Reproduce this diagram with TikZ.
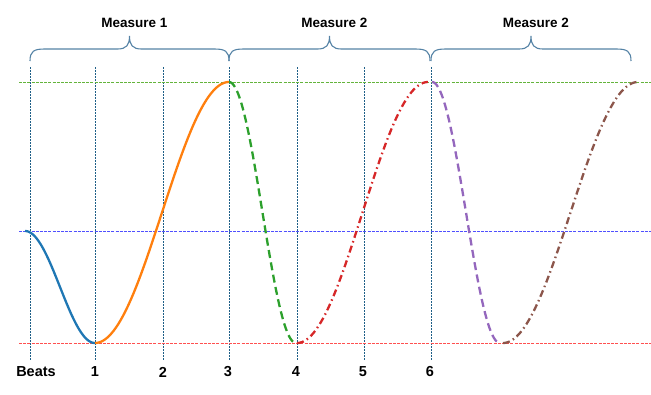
\documentclass[tikz,border=0pt]{standalone}
\usepackage{fontspec}
\setmainfont{Liberation Sans}
\usepackage{tikz}
\usetikzlibrary{positioning}

\definecolor{beatteal}{RGB}{30,95,135}
\definecolor{bracesteel}{RGB}{84,130,165}
\definecolor{topgreen}{RGB}{100,180,60}
\definecolor{midblue}{RGB}{80,80,255}
\definecolor{lowred}{RGB}{255,80,80}
\definecolor{tabblue}{RGB}{31,119,180}
\definecolor{taborange}{RGB}{255,127,14}
\definecolor{tabgreen}{RGB}{44,160,44}
\definecolor{tabred}{RGB}{214,39,40}
\definecolor{tabpurple}{RGB}{148,103,189}
\definecolor{tabbrown}{RGB}{140,86,75}

\begin{document}
\begin{tikzpicture}[x=1pt,y=-1pt,
    beatline/.style={beatteal,line width=0.8pt,dash pattern=on 2pt off 1pt},
    levelline/.style={line width=1pt,dash pattern=on 3pt off 1.2pt},
    swing/.style={line width=2.3pt,domain=0:1,samples=80},
    dashswing/.style={swing,dash pattern=on 8pt off 4.5pt},
    dotswing/.style={swing,dash pattern=on 7pt off 3.5pt on 1.5pt off 3.5pt},
    measurebrace/.style={bracesteel,line width=1.1pt},
    lbl/.style={font=\bfseries\fontsize{13.5}{16}\selectfont,inner sep=0pt},
    beatlbl/.style={font=\bfseries\fontsize{14.5}{17}\selectfont,inner sep=0pt}]
  \useasboundingbox (0,0) rectangle (651,394);

  % beat lines
  \foreach \bx in {30,95,163,229,297,364,431}
    \draw[beatline] (\bx,67) -- (\bx,360);

  % levels
  \draw[levelline,topgreen] (19,82) -- (651,82);
  \draw[levelline,midblue] (19,231) -- (651,231);
  \draw[levelline,lowred] (19,343) -- (651,343);

  % braces over the measures
  \foreach \xa/\xb/\txt [count=\i] in {30/229/Measure 1,229/430/Measure 2,431/631/Measure 2}{
    \pgfmathsetmacro{\xm}{(\xa+\xb)/2}
    \draw[measurebrace] (\xa,61) .. controls (\xa,51) and ({\xa+4},49) .. ({\xa+15},49)
      -- ({\xm-12},49) .. controls ({\xm-3},49) and (\xm,45) .. (\xm,36)
      .. controls (\xm,45) and ({\xm+3},49) .. ({\xm+12},49)
      -- ({\xb-15},49) .. controls ({\xb-4},49) and (\xb,51) .. (\xb,61);
    \node[lbl] (m\i) at ({\xm+5},23) {\txt};
  }

  % the swings
  \draw[swing,tabblue] plot ({25+70*\x},{231+112*(1-cos(180*\x))/2});
  \draw[swing,taborange] plot ({95+134*\x},{343-261*(1-cos(180*\x))/2});
  \draw[dashswing,tabgreen] plot ({229+67*\x},{82+261*(1-cos(180*\x))/2});
  \draw[dotswing,tabred] plot ({297+131*\x},{343-261*(1-cos(180*\x))/2});
  \draw[dashswing,tabpurple] plot ({432+68*\x},{82+261*(1-cos(180*\x))/2});
  \draw[dotswing,tabbrown] plot ({503+135*\x},{343-261*(1-cos(180*\x))/2});

  % beat numbers
  \node[beatlbl] (beats) at (36,372) {Beats};
  \foreach \n/\bx in {1/95,2/163,3/228,4/296,5/363,6/430}
    \node[beatlbl] (b\n) at (\bx,372) {\n};
\end{tikzpicture}
\end{document}
